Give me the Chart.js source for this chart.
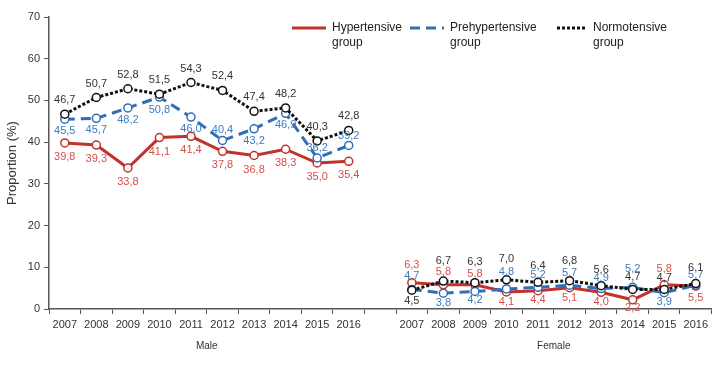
<!DOCTYPE html>
<html>
<head>
<meta charset="utf-8">
<script src="https://cdn.jsdelivr.net/npm/chart.js@4/dist/chart.umd.min.js"></script>
<style>
  body { margin: 0; background: #fff; }
  #wrap { width: 712px; height: 379px; }
</style>
</head>
<body>
<div id="wrap"><canvas id="propChart" width="712" height="379"></canvas></div>
<script>
// 데이터
const years = ['2007', '2008', '2009', '2010', '2011', '2012', '2013', '2014', '2015', '2016'];
const groups = ['Male', 'Female'];
const seriesNames = [['Hypertensive', 'group'], ['Prehypertensive', 'group'], ['Normotensive', 'group']];

const maleHyper  = [39.8, 39.3, 33.8, 41.1, 41.4, 37.8, 36.8, 38.3, 35.0, 35.4];
const malePre    = [45.5, 45.7, 48.2, 50.8, 46.0, 40.4, 43.2, 46.9, 36.2, 39.2];
const maleNormo  = [46.7, 50.7, 52.8, 51.5, 54.3, 52.4, 47.4, 48.2, 40.3, 42.8];

const femaleHyper = [6.3, 5.8, 5.8, 4.1, 4.4, 5.1, 4.0, 2.2, 5.8, 5.5];
const femalePre   = [4.7, 3.8, 4.2, 4.8, 5.2, 5.7, 4.9, 5.2, 3.9, 5.7];
const femaleNormo = [4.5, 6.7, 6.3, 7.0, 6.4, 6.8, 5.6, 4.7, 4.7, 6.1];

const yTicks = [0, 10, 20, 30, 40, 50, 60, 70];

// 라벨 위치 (px, 음수 = 위)
const hyperLabelDy = [14, 14, 14, 14, 14, 14, 14, 14, 14, 14, null, -18, -13, -11, 10, 9, 10, 10, 8, -16, 12];
const preLabelDy   = [12, 12, 12, 13, 12, -11, 12, 12, -10, -10, null, -13, 10, 8, -17, -12, -12, -11, -18, 9, -10];
const normoLabelDy = [-14, -14, -14, -14, -14, -14, -14, -14, -14, -14, null, 11, -20, -21, -21, -16, -20, -16, -12, -11, -16];

// 남/녀 사이에 빈 칸 하나
const categories = [...years, '', ...years];
const join = (m, f) => [...m, null, ...f];

const FONT = '"Liberation Sans", Arial, sans-serif';

const labelPlugin = {
    id: 'pointLabels',
    afterDatasetsDraw(chart) {
        const ctx = chart.ctx;
        ctx.save();
        ctx.font = '11px ' + FONT;
        ctx.textAlign = 'center';
        ctx.textBaseline = 'middle';
        chart.data.datasets.forEach((ds, i) => {
            const meta = chart.getDatasetMeta(i);
            meta.data.forEach((pt, j) => {
                const v = ds.data[j];
                if (v == null) return;
                ctx.fillStyle = ds.labelColor;
                ctx.fillText(v.toFixed(1).replace('.', ','), pt.x, pt.y + ds.labelDy[j]);
            });
        });
        ctx.restore();
    }
};

const extrasPlugin = {
    id: 'extras',
    afterDraw(chart) {
        const ctx = chart.ctx;
        const x = chart.scales.x;
        const area = chart.chartArea;
        ctx.save();
        // Male / Female
        ctx.font = '10px ' + FONT;
        ctx.fillStyle = '#333';
        ctx.textAlign = 'center';
        ctx.textBaseline = 'middle';
        const mid = (a, b) => (x.getPixelForValue(a) + x.getPixelForValue(b)) / 2;
        ctx.fillText(groups[0], mid(0, 9), 346);
        ctx.fillText(groups[1], mid(11, 20), 346);

        // y축 제목
        ctx.save();
        ctx.translate(12, (area.top + area.bottom) / 2);
        ctx.rotate(-Math.PI / 2);
        ctx.font = '13px ' + FONT;
        ctx.fillStyle = '#333';
        ctx.fillText('Proportion (%)', 0, 0);
        ctx.restore();

        // 범례
        const legendX = [292, 410, 557];
        ctx.font = '12px ' + FONT;
        ctx.textAlign = 'left';
        chart.data.datasets.forEach((ds, i) => {
            const lx = legendX[i];
            const len = i === 2 ? 30 : 34;
            ctx.beginPath();
            ctx.setLineDash(ds.borderDash || []);
            ctx.lineWidth = 3;
            ctx.strokeStyle = ds.borderColor;
            ctx.moveTo(lx, 28);
            ctx.lineTo(lx + len, 28);
            ctx.stroke();
            ctx.setLineDash([]);
            ctx.fillStyle = '#222';
            ds.legendText.forEach((t, k) => ctx.fillText(t, lx + len + 6, 28 + k * 15));
        });
        ctx.restore();
    }
};

const pointStyle = color => ({
    pointRadius: 4,
    pointHoverRadius: 4,
    pointBackgroundColor: '#fff',
    pointBorderColor: color,
    pointBorderWidth: 1.5
});

const ctx = document.getElementById('propChart').getContext('2d');
const propChart = new Chart(ctx, {
    type: 'line',
    data: {
        labels: categories,
        datasets: [
            {
                label: 'Hypertensive group',
                legendText: seriesNames[0],
                data: join(maleHyper, femaleHyper),
                borderColor: '#c2322c',
                borderWidth: 3,
                labelColor: '#d4504a',
                labelDy: hyperLabelDy,
                order: 2,
                ...pointStyle('#c2322c')
            },
            {
                label: 'Prehypertensive group',
                legendText: seriesNames[1],
                data: join(malePre, femalePre),
                borderColor: '#2f6fb8',
                borderWidth: 3,
                borderDash: [10, 6],
                labelColor: '#3b7cc4',
                labelDy: preLabelDy,
                order: 1,
                ...pointStyle('#2f6fb8')
            },
            {
                label: 'Normotensive group',
                legendText: seriesNames[2],
                data: join(maleNormo, femaleNormo),
                borderColor: '#111',
                borderWidth: 3,
                borderDash: [3, 2],
                labelColor: '#333',
                labelDy: normoLabelDy,
                order: 0,
                ...pointStyle('#111')
            }
        ]
    },
    options: {
        responsive: false,
        animation: false,
        devicePixelRatio: 1,
        spanGaps: false,
        layout: { autoPadding: false, padding: { top: 17, right: -3, left: 0, bottom: 0 } },
        plugins: {
            legend: { display: false },
            tooltip: { enabled: false }
        },
        scales: {
            x: {
                type: 'category',
                offset: true,
                afterFit: s => { s.height = 70; },
                grid: { offset: true, drawOnChartArea: false, drawTicks: true, tickLength: 5, color: '#555', lineWidth: 1 },
                border: { color: '#555', width: 1.5 },
                ticks: {
                    autoSkip: false,
                    maxRotation: 0,
                    padding: 4,
                    color: '#333',
                    font: { size: 11, family: FONT }
                }
            },
            y: {
                min: yTicks[0],
                max: yTicks[yTicks.length - 1],
                afterFit: s => { s.width = 49; },
                afterBuildTicks: s => { s.ticks = yTicks.map(v => ({ value: v })); },
                grid: { drawOnChartArea: false, drawTicks: true, tickLength: 5, color: '#555' },
                border: { color: '#555', width: 1.5 },
                ticks: {
                    padding: 4,
                    color: '#333',
                    font: { size: 11, family: FONT }
                }
            }
        }
    },
    plugins: [labelPlugin, extrasPlugin]
});
</script>
</body>
</html>
